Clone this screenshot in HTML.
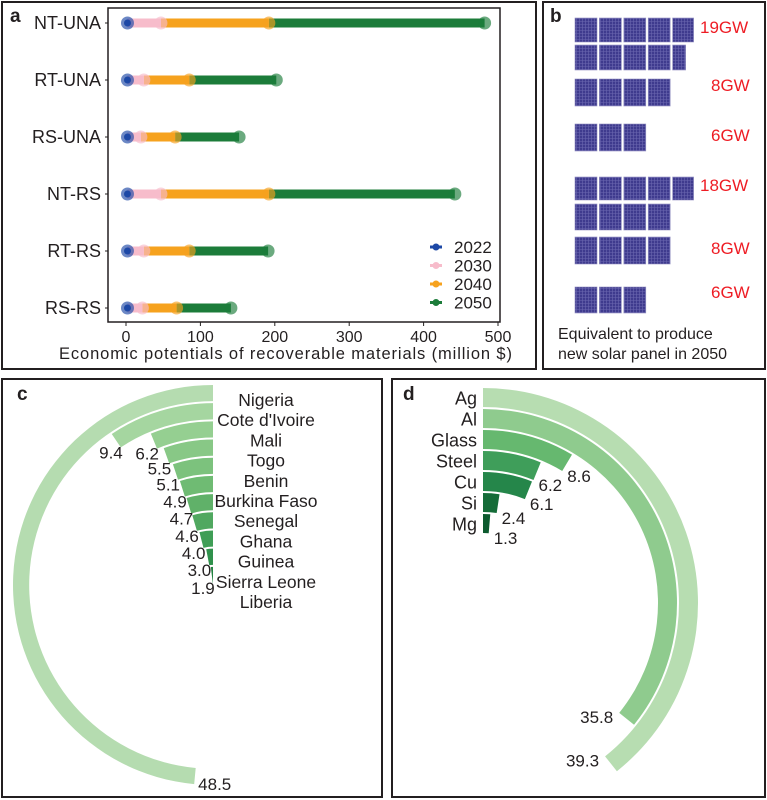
<!DOCTYPE html>
<html><head><meta charset="utf-8"><style>
body{margin:0;background:#fff;}
svg{display:block;font-family:"Liberation Sans",Arial,sans-serif;}
</style></head><body>
<svg id="root" width="767" height="800" viewBox="0 0 767 800">
<defs>
<pattern id="cell" width="3" height="3" patternUnits="userSpaceOnUse">
<rect width="3" height="3" fill="#3f3b8e"/><path d="M0 0.5H3M0.5 0V3" stroke="#6a67b0" stroke-width="0.6"/>
</pattern>
</defs>
<rect x="2" y="2" width="534" height="367" fill="none" stroke="#231f20" stroke-width="2"/>
<rect x="543" y="2" width="222" height="367" fill="none" stroke="#231f20" stroke-width="2"/>
<rect x="2" y="379" width="380" height="418" fill="none" stroke="#231f20" stroke-width="2"/>
<rect x="392" y="379" width="373" height="418" fill="none" stroke="#231f20" stroke-width="2"/>
<text x="10" y="22" font-size="19" font-weight="bold" fill="#231f20">a</text>
<text x="550" y="22" font-size="19" font-weight="bold" fill="#231f20">b</text>
<text x="17" y="400" font-size="19" font-weight="bold" fill="#231f20">c</text>
<text x="403" y="400" font-size="19" font-weight="bold" fill="#231f20">d</text>
<rect x="108" y="8" width="392" height="314" fill="none" stroke="#231f20" stroke-width="1.5"/>
<g id="ga"></g><g id="gb"></g><g id="gc"></g><g id="gd"></g>
</svg>
<script>
// ---- Panel a data ----
const scenarios = ["NT-UNA","RT-UNA","RS-UNA","NT-RS","RT-RS","RS-RS"];
const years = ["2022","2030","2040","2050"];
const v2022 = [2,2,2,2,2,2];
const v2030 = [47,24,20,47,24,22];
const v2040 = [192,85,66,192,85,68];
const v2050 = [482,202,152,442,191,141];
const xTicks = [0,100,200,300,400,500];
// ---- Panel b data ----
const gwLabels = ["19GW","8GW","6GW","18GW","8GW","6GW"];
// ---- Panel c data ----
const countries = ["Nigeria","Cote d'Ivoire","Mali","Togo","Benin","Burkina Faso","Senegal","Ghana","Guinea","Sierra Leone","Liberia"];
const countryVals = [48.5,9.4,6.2,5.5,5.1,4.9,4.7,4.6,4.0,3.0,1.9];
// ---- Panel d data ----
const materials = ["Ag","Al","Glass","Steel","Cu","Si","Mg"];
const materialVals = [39.3,35.8,8.6,6.2,6.1,2.4,1.3];

const cColors=["#b5dcb0","#a5d6a0","#95cf91","#88c886","#7cc27d","#6fbb73","#60b169","#50a860","#3f9e56","#30914c","#238241"];
const dColors=["#b7ddb1","#8fcb8e","#66b86f","#3f9e5a","#25864a","#156c38","#0c5a2e"];

const NS="http://www.w3.org/2000/svg";
function mk(tag,attrs,parent,txt){const e=document.createElementNS(NS,tag);for(const k in attrs)e.setAttribute(k,attrs[k]);if(txt!==undefined)e.textContent=txt;parent.appendChild(e);return e;}

// ===== Panel a =====
const ga=document.getElementById('ga');
const xA=v=>126+v*0.744;
const yA=i=>23+i*57;
const cols=["#1d48a6","#f7bccb","#f6a21e","#1c7c3a"];
scenarios.forEach((s,i)=>{
  const y=yA(i);
  const vals=[v2022[i],v2030[i],v2040[i],v2050[i]];
  const t=mk('text',{x:101,y:y+6,'font-size':18,'text-anchor':'end',fill:'#231f20'},ga,s);
  
  
  const tk=mk('line',{x1:105,x2:108,y1:y,y2:y,stroke:'#231f20'},ga);
  
  
  for(let k=3;k>=1;k--){
    const l=mk('line',{x1:xA(vals[k-1]),x2:xA(vals[k]),y1:y,y2:y,stroke:cols[k],'stroke-width':9},ga);
    
    
  }
  for(let k=3;k>=0;k--){
    const c=mk('circle',{cx:xA(vals[k]),cy:y,r:6.5,fill:cols[k],'fill-opacity':0.65},ga);
    
    
  }
  const c2=mk('circle',{cx:xA(vals[0]),cy:y,r:3.5,fill:cols[0]},ga);
  
  
});
xTicks.forEach(v=>{
  const l=mk('line',{x1:xA(v),x2:xA(v),y1:322,y2:326,stroke:'#231f20'},ga);
  
  
  const t=mk('text',{x:xA(v),y:342,'font-size':16,'text-anchor':'middle',fill:'#231f20'},ga,String(v));
  
  
});
const xt=mk('text',{x:59,y:359,'font-size':16.5,fill:'#231f20',textLength:453},ga,"Economic potentials of recoverable materials (million $)");


years.forEach((yr,k)=>{
  const y=247+k*18.5;
  const l=mk('line',{x1:430,x2:442,y1:y,y2:y,stroke:cols[k],'stroke-width':3},ga);
  
  
  const c=mk('circle',{cx:436,cy:y,r:3.5,fill:cols[k]},ga);
  
  
  const t=mk('text',{x:454,y:y+6,'font-size':17,fill:'#231f20'},ga,yr);
  
  
});

// ===== Panel b =====
const gb=document.getElementById('gb');
const rows=[[18,42,5,[22,22,22,22,21]],[45,70,5,[22,22,22,22,13]],[79,106,4],[124,151,3],[177,200,5,[22,22,22,22,21]],[204,230,4],[237,264,4],[287,313,3]];
rows.forEach(r=>{
  for(let j=0;j<r[2];j++){
    const w=r[3]?r[3][j]:22;
    const q=mk('rect',{x:575+j*24.4,y:r[0],width:w,height:r[1]-r[0],fill:'url(#cell)',stroke:'#8f8dbf','stroke-width':0.6},gb);
    
    
  }
});
const gwPos=[[700,33],[711,91],[711,141],[700,191],[711,254],[711,298]];
gwLabels.forEach((g,i)=>{
  const t=mk('text',{x:gwPos[i][0],y:gwPos[i][1],'font-size':17,fill:'#ee1c24'},gb,g);
  
  
});
const cap1=mk('text',{x:558,y:339,'font-size':16,fill:'#231f20'},gb,"Equivalent to produce");


const cap2=mk('text',{x:558,y:359,'font-size':16,fill:'#231f20'},gb,"new solar panel in 2050");



function arcPath(cx,cy,r0,r1,a,dir){
  const rad=a*Math.PI/180;
  const p=(r,t)=>[cx+dir*r*Math.sin(t),cy-r*Math.cos(t)];
  const large=a>180?1:0;
  const sw=dir>0?1:0;
  const [x0,y0]=p(r1,0),[x1,y1]=p(r1,rad),[x2,y2]=p(r0,rad),[x3,y3]=p(r0,0);
  return `M${x0},${y0}A${r1},${r1} 0 ${large} ${sw} ${x1},${y1}L${x2},${y2}A${r0},${r0} 0 ${large} ${1-sw} ${x3},${y3}Z`;
}
const sc=v=>v/50*180;

// ===== Panel c =====
const gc=document.getElementById('gc');
const cxC=213,cyC=585,RC=200,stC=RC/11;
countries.forEach((n,i)=>{
  const r1=RC-i*stC,r0=Math.max(0,r1-stC+2);
  const a=sc(countryVals[i]);
  const p=mk('path',{d:arcPath(cxC,cyC,r0,r1,a,-1),fill:cColors[i]},gc);
  
  
  const rad=a*Math.PI/180;
  let x,y,anc;
  if(a>90){x=cxC-r1*Math.sin(rad)+4;y=cyC-r1*Math.cos(rad)+6;anc='start';}
  else{x=cxC-r0*Math.sin(rad)+2;y=cyC-r0*Math.cos(rad)+11;anc='end';}
  const t=mk('text',{x:x,y:y,'font-size':17,'text-anchor':anc,fill:'#231f20'},gc,countryVals[i].toFixed(1));
  
  
  const cl=mk('text',{x:266,y:406+i*20.2,'font-size':17.5,'text-anchor':'middle',fill:'#231f20'},gc,n);
  
  
});

// ===== Panel d =====
const gd=document.getElementById('gd');
const cxD=483,cyD=603,RD=215,stD=21;
materials.forEach((m,i)=>{
  const r1=RD-i*stD,r0=r1-19;
  const a=sc(materialVals[i]);
  const p=mk('path',{d:arcPath(cxD,cyD,r0,r1,a,1),fill:dColors[i]},gd);
  
  
  const rad=a*Math.PI/180;
  const px=cxD+r0*Math.sin(rad),py=cyD-r0*Math.cos(rad);
  let x,y,anc;
  if(a>90){x=px-6;y=py+10;anc='end';}else{x=px+5;y=py+11;anc='start';}
  const t=mk('text',{x:x,y:y,'font-size':17,'text-anchor':anc,fill:'#231f20'},gd,materialVals[i].toFixed(1));
  
  
  const ml=mk('text',{x:477,y:cyD-(r1-9.5)+7,'font-size':18,'text-anchor':'end',fill:'#231f20'},gd,m);
  
  
});
</script>
</body></html>
